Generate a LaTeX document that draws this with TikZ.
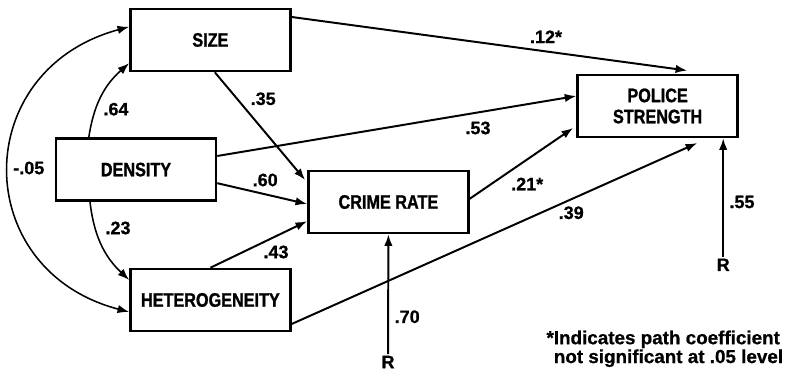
\documentclass[tikz,border=0pt]{standalone}
\usepackage{fontspec}
\setmainfont{Liberation Sans}
\newfontfamily\boxfont{Liberation Sans Bold}[FakeStretch=0.83, FakeBold=1.2]
\newfontfamily\numfont{Liberation Sans Bold}[FakeBold=0.8]
\usetikzlibrary{arrows.meta}

\begin{document}
\begin{tikzpicture}[
  varbox/.style={draw, line width=1.8pt, minimum width=4cm, minimum height=1.55cm, inner sep=0pt,
    align=center, font=\boxfont\fontsize{13.9}{15}\selectfont},
  coef/.style={inner sep=1pt, font=\numfont\fontsize{12.8}{12.8}\selectfont},
  link/.style={line width=1.4pt, -{Latex[length=2.9mm,width=2.1mm]}},
  corr/.style={line width=1.1pt, -{Latex[length=2.9mm,width=2.1mm]}},
]
\useasboundingbox (0,0) rectangle (19.75,9.3);

\node[varbox] (size) at (5.26,8.30) {SIZE};
\node[varbox] (dens) at (3.40,5.06) {DENSITY};
\node[varbox] (het) at (5.26,1.80) {HETEROGENEITY};
\node[varbox] (crime) at (9.71,4.25) {CRIME RATE};
\node[varbox] (police) at (16.44,6.65) {POLICE\\STRENGTH};

\node[coef] (r1) at (9.70,0.25) {R};
\node[coef] (r2) at (18.08,2.68) {R};

\draw[link] ([yshift=0.575cm]size.east) -- ([xshift=0.74cm,yshift=0.08cm]police.north);
\draw[link] ([yshift=0.34cm]dens.east) -- ([yshift=0.25cm]police.west);
\draw[link] ([yshift=-0.34cm]dens.east) -- ([yshift=-0.05cm]crime.west);
\draw[link] ([xshift=0.11cm]size.south) -- ([xshift=-0.05cm,yshift=0.55cm]crime.west);
\draw[link] (het.north) -- ([yshift=-0.48cm]crime.west);
\draw[link] ([yshift=0.08cm]crime.east) -- ([xshift=-0.08cm,yshift=-0.55cm]police.west);
\draw[link] ([yshift=-0.6cm]het.east) -- ([xshift=0.99cm,yshift=-0.12cm]police.south);
\draw[link] (r1) -- (crime.south);
\draw[link] (r2) -- (r2 |- police.south);

\draw[corr] ([xshift=-1.18cm]dens.north) to[bend left=20] ([yshift=-0.58cm]size.west);
\draw[corr] ([xshift=-1.15cm]dens.south) to[bend right=20] ([yshift=0.5cm]het.west);
\draw[corr, {Latex[length=2.9mm,width=2.1mm]}-{Latex[length=2.9mm,width=2.1mm]}]
  ([yshift=0.33cm]size.west) .. controls +(-4,-1.08) and +(-4,1.05) .. ([yshift=-0.3cm]het.west);

\node[coef] (c12) at (13.65,8.38) {.12*};
\node[coef] (c53) at (11.95,6.10) {.53};
\node[coef] (c60) at (6.63,4.80) {.60};
\node[coef] (c35) at (6.58,6.83) {.35};
\node[coef] (c43) at (6.90,3.00) {.43};
\node[coef] (c21) at (13.18,4.70) {.21*};
\node[coef] (c39) at (14.28,3.98) {.39};
\node[coef] (c70) at (10.18,1.38) {.70};
\node[coef] (c55) at (18.55,4.25) {.55};
\node[coef] (c64) at (2.90,6.57) {.64};
\node[coef] (c23) at (2.95,3.60) {.23};
\node[coef] (c05) at (0.72,5.10) {-.05};

\node[align=left, inner sep=0pt, font=\numfont\fontsize{13.4}{13.4}\selectfont] (note) at (16.62,0.58)
  {*Indicates path coefficient\\\hphantom{*}not significant at .05 level};
\end{tikzpicture}
\end{document}
